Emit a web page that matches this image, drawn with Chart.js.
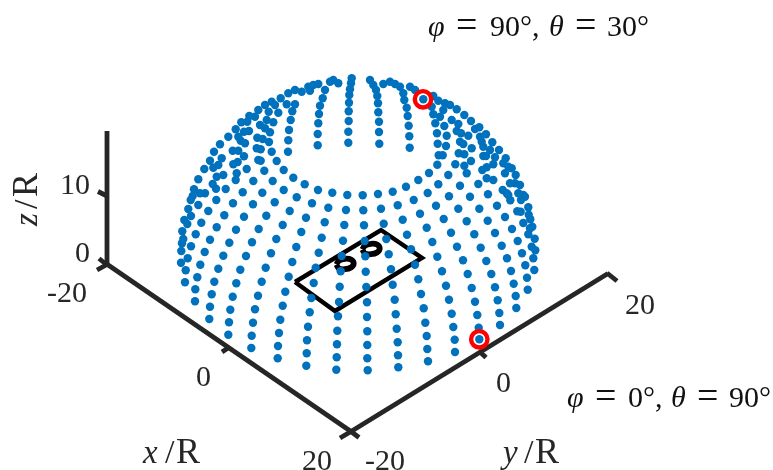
<!DOCTYPE html>
<html>
<head>
<meta charset="utf-8">
<title>Dome scatter</title>
<script src="https://cdn.jsdelivr.net/npm/chart.js@4"></script>
<style>
  html, body { margin: 0; padding: 0; background: #fff; }
  canvas { display: block; }
</style>
</head>
<body>
<canvas id="dome-chart" width="773" height="470"></canvas>
<script>
// Projected positions, one [x, y] run per meridian / cluster
const frontCentre = [[367.7,370.3],[367.3,358.3],[367.3,345],[367.3,331.3],[367,317],[367,302.3],[366.3,287],[365.7,271.7],[365.3,256.3],[364.7,241],[364,225.3],[363.3,210.3],[362.7,195.3]];
const frontLeft1 = [[336.3,369.7],[336.7,357.3],[337,344.3],[337.3,330.7],[338,316.3],[339,302],[339.7,286.7],[340.7,271.3],[341.7,256],[343,240.7],[344.3,225],[346,210],[347.3,195]];
const frontLeft2 = [[306.3,365.7],[306.7,353.3],[307,340.3],[308,326.7],[309.7,312.3],[311.3,298],[313.7,283],[315.7,267.7],[318.7,252.7],[321.7,237.7],[324.7,222.3],[328.3,207.7],[332.3,192.7]];
const frontLeft3 = [[277.7,358.3],[278,346],[279,333],[280.3,319.7],[282.7,305.7],[285.3,291.7],[288.7,276.7],[292.3,262],[296.3,247],[301.3,232],[306,217.7],[312,203.3],[318,190]];
const frontLeft4 = [[251.3,348],[251.7,335.7],[253,322.7],[255,309.3],[258,295.7],[261.7,281.7],[265.7,267.7],[271,253.3],[276.3,239],[282.7,225],[289.7,211],[296.7,197.3],[304.7,184.3]];
const frontLeft5 = [[228.3,334.7],[229,322.3],[230.3,309.7],[232.7,296.7],[236.3,283.3],[240.3,269.7],[246,256],[252,242.3],[258.7,229],[266.3,215.7],[274.7,202.3],[283.7,190],[293.3,177.7]];
const frontLeft6 = [[209.3,319],[210,306.7],[211.7,294.3],[214.3,281.7],[218.3,268.7],[223.3,255.7],[229.3,242.7],[236,229.7],[244,216.7],[253,204.3],[262.3,192.7],[272.7,181],[283.7,170]];
const frontLeft7 = [[195,301.3],[195.3,289.3],[197.3,277.3],[200.3,264.7],[204.7,252],[210,239.7],[216.7,227.3],[224.3,215.3],[233,203.3],[242.7,192.3],[253.3,181],[264.3,170.7],[276.7,161]];
const frontLeft8 = [[185,282.3],[185.7,270.3],[187.7,258.3],[191,246.3],[195.7,234.3],[201.3,222.7],[208.3,211],[216.3,200],[225.7,189],[235.7,180],[246.7,169],[258.3,160],[271.7,151.7]];
const leftEdge = [[181,262.7],[181.3,251],[183.3,239],[187.3,224],[191,216],[198.3,205],[205,193.3],[182,243.3],[182.3,231.3],[184.3,220],[188.3,209],[190.7,200],[192.7,196],[200,193.3],[194,189.3],[212.7,184],[216,188.7],[198.3,179.3],[216.7,176.7],[223.3,175],[236.7,173.3],[204.3,169],[210,160.7],[213.3,167.7],[218.3,165],[214,151.7],[221.7,158.3],[233.3,164.3],[237.7,162]];
const backLeft = [[220,144.3],[228.3,136.7],[232.7,150.7],[238.3,150.7],[244,156.3],[260.7,160.7],[235.7,129.3],[238.3,136.7],[240.7,140.7],[245,143.3],[256.7,148.3],[260.7,149.3],[241.3,122.3],[247.3,121.7],[244,131.7],[249,131],[257.3,137.7],[262.7,139],[269,142],[249.3,116],[255,116.7],[258.3,110],[260,125],[265,128.3],[270,132.3],[265,105],[268.7,111.7],[266.7,120],[273.3,122.3],[271.7,101.7],[275,105],[278.3,112.7],[286.7,104.3],[295,104.3],[280.7,98.3],[288.3,93.3],[295,90],[301.7,91.7],[310,90.7],[308.3,86.7],[313.3,85],[318.3,84],[325,90],[330,81.7],[333.3,80],[338.3,83.3]];
const hangLeft2 = [[292.3,111.3],[290.7,120],[289,130],[288.3,140.3],[288,151.7]];
const hangLeft1 = [[322.7,98.3],[320,105.7],[319,114],[318.3,123.3],[317.7,134],[317.7,145.3]];
const hangCentre = [[351.7,78.3],[351,83.3],[350,89.3],[349.3,95],[349,102.7],[348.7,111.3],[348.7,121],[348.3,131.7],[348.3,142.7]];
const hangRight1 = [[370,80],[373.3,85],[376,90],[377.3,96],[378,103.3],[378.3,112.3],[379,121.7],[379,132],[379.3,143.7]];
const hangRight2 = [[383.3,84],[390,81.7],[395,84],[400,86.7],[403.3,93.3],[404.3,100],[406.7,107.7],[407.7,116],[408.7,125.7],[409.3,136.3],[409.7,147.7]];
const backRight = [[410,86.7],[415,90],[423.3,99.3],[433.3,96],[431.7,106.7],[433.3,114.3],[440,116.7],[435.3,123.3],[437,133.3],[437.7,143.7],[438.7,155.3],[442.7,155.3],[438.3,100.7],[445,103.3],[450,105],[456.7,109.3],[443.3,110],[451.7,120],[464.3,115],[458.3,124],[444.3,126],[446.7,135.7],[446,146],[471,121],[475,129],[479.3,127.3],[456.7,131],[461,133.3],[468.3,135.7],[460,141.7],[463.3,144],[471.7,148.3],[458.7,153.3],[464.3,154.3],[471,161],[464.3,165.7]];
const rightEdge = [[486,134.3],[480,136.7],[481.7,141.7],[492.3,142.3],[483.3,146.7],[490,150],[499,150],[483.3,156],[486,156],[495,157.3],[505.7,158.3],[493.3,164.3],[486.7,167.3],[482.3,170],[503.3,163.3],[508.3,166.7],[511.7,168.3],[505,173.3],[515.7,175],[486.7,178.3],[493.3,180],[515,183.3],[510,183.3],[520,185],[523.3,195],[508.3,195],[535.3,250.3],[534.7,238.7],[532.3,226.7],[530,228.3],[530.3,219.3],[528.7,214.7],[520.7,211.7],[528.3,207.3],[525,196.7],[518.3,193.3],[521,200],[506.7,193.3]];
const frontRight1 = [[398.3,367.3],[398,355.3],[397.7,342.3],[396.7,328.7],[395.7,314.3],[394.7,299.7],[392.7,284.7],[391,269.3],[388.7,254.3],[386.3,239],[383.7,223.7],[381,208.7],[378,194]];
const frontRight2 = [[428,361.3],[427.3,349],[426.7,336],[425.3,322.7],[423.7,308.3],[421,294],[418.3,279.3],[415,264.7],[411,249.3],[407,234.7],[402.7,219.7],[397.7,205.3],[392.7,191.7]];
const frontRight3 = [[455,352],[454.7,339.7],[453.3,327],[451.7,313.7],[449,299.7],[446,285.7],[442,271.3],[437.3,256.7],[432.3,242],[426.7,227.7],[420,213.7],[413.7,200],[406,186.7]];
const frontRight4 = [[479.3,339.3],[478.7,327.7],[477.3,315],[475,301.7],[471.7,288],[467.7,274],[463,260.3],[457,246.7],[451,232.7],[443.7,219],[436,205.7],[427.7,193],[418.3,180]];
const frontRight5 = [[500,325],[499.3,313],[497.7,300.3],[495,287.3],[491.3,274],[486.3,261],[480.7,247.7],[474.3,234.3],[466.7,221.3],[458.3,208.7],[449,196.3],[438.3,184.3],[429,173]];
const frontRight6 = [[516.3,308],[515.7,296],[513.7,283.7],[511,271],[507,258.3],[501.7,245.7],[495,233],[487.7,220.7],[479.3,208.7],[470,196.7],[460,185.7],[448.3,175],[437.3,164.7]];
const frontRight7 = [[527.7,289.7],[527,277.7],[525.3,265.3],[522,253.3],[517.7,241],[512,229],[505,217],[497,205.7],[488,194.3],[478.3,184],[466.7,173.3],[455.3,164.3]];
const frontRight8 = [[534.3,270],[533.3,258.3],[531.7,246.7],[528.3,234.3],[523.3,223],[517.3,211.3],[510.3,200.3],[502.7,190]];

const dotRuns = [frontCentre, frontLeft1, frontLeft2, frontLeft3, frontLeft4, frontLeft5, frontLeft6, frontLeft7, frontLeft8,
  leftEdge, backLeft, hangLeft2, hangLeft1, hangCentre, hangRight1, hangRight2, backRight, rightEdge,
  frontRight1, frontRight2, frontRight3, frontRight4, frontRight5, frontRight6, frontRight7, frontRight8];

const markedPoints = [[423,99.3],[479.3,339.3]];
const padOutline = [[295,282],[335,311],[422,258],[381,230],[295,282]];
const holeOne = [[336.3,264.5],[339,260.5],[345,258.8],[351,259.5],[353.7,263.5],[351,267.5],[345,269.2],[339,268.5],[336.3,264.5]];
const holeTwo = [[362.3,249.5],[365,245.5],[371,243.8],[377,244.5],[379.7,248.5],[377,252.5],[371,254.2],[365,253.5],[362.3,249.5]];

const axisLines = [
  [[107,131],[107,266]],
  [[106,263.5],[351,431.5]],
  [[351,431.5],[608,273.5]],
  [[107,196],[98,191.5]],
  [[107,265],[99,258.5]],
  [[107,264.5],[97,270]],
  [[228,348],[222,352]],
  [[351,431.5],[340,438]],
  [[351,431.5],[359,437.5]],
  [[480,352],[486,357.5]],
  [[607,273],[617,281]]
];

const xyTickText = ["-20", "0", "20"];
const zTickText = ["0", "10"];

const toPoints = run => run.map(p => ({ x: p[0], y: p[1] }));

// Labels go through the same scales as the marks
const labelPlugin = {
  id: "domeLabels",
  afterDatasetsDraw(chart) {
    const { ctx, scales } = chart;
    const px = v => scales.x.getPixelForValue(v);
    const py = v => scales.y.getPixelForValue(v);

    function put(text, x, y, size, italic, color) {
      ctx.font = `${italic ? "italic " : ""}${size}px "Liberation Serif"`;
      ctx.fillStyle = color;
      ctx.textAlign = "left";
      ctx.textBaseline = "alphabetic";
      ctx.fillText(text, px(x), py(y));
    }

    // tick labels
    put(xyTickText[0], 47, 302, 30, false, "#262626");
    put(zTickText[0], 75, 262, 30, false, "#262626");
    put(zTickText[1], 60, 194, 30, false, "#262626");
    put(xyTickText[1], 196, 386, 30, false, "#262626");
    put(xyTickText[2], 302, 470, 30, false, "#262626");
    put(xyTickText[0], 365, 470, 30, false, "#262626");
    put(xyTickText[1], 496, 392, 30, false, "#262626");
    put(xyTickText[2], 625, 314, 30, false, "#262626");

    // axis names
    put("x", 143, 463, 33, true, "#262626");
    put("/", 165, 463, 34, false, "#262626");
    put("R", 176, 463, 36, false, "#262626");
    put("y", 503, 463, 33, true, "#262626");
    put("/", 524, 463, 34, false, "#262626");
    put("R", 535, 463, 36, false, "#262626");
    ctx.save();
    ctx.translate(px(37), py(226));
    ctx.rotate(-Math.PI / 2);
    ctx.font = 'italic 33px "Liberation Serif"';
    ctx.fillStyle = "#262626";
    ctx.fillText("z", 0, 0);
    ctx.font = '34px "Liberation Serif"';
    ctx.fillText("/", 17, 0);
    ctx.font = '36px "Liberation Serif"';
    ctx.fillText("R", 29, 0);
    ctx.restore();

    // view annotations
    put("\u03C6", 428, 36, 30, true, "#111");
    put("=", 456, 37, 38, false, "#111");
    put("90\u00B0,", 490, 36, 30, false, "#111");
    put("\u03B8", 549, 36, 30, true, "#111");
    put("=", 575, 37, 38, false, "#111");
    put("30\u00B0", 607, 36, 30, false, "#111");

    put("\u03C6", 567, 407, 30, true, "#111");
    put("=", 595, 408, 38, false, "#111");
    put("0\u00B0,", 628, 407, 30, false, "#111");
    put("\u03B8", 671, 407, 30, true, "#111");
    put("=", 697, 408, 38, false, "#111");
    put("90\u00B0", 729, 407, 30, false, "#111");
  }
};

const lineSet = (run, color, width, tension) => ({
  data: toPoints(run),
  showLine: true,
  borderColor: color,
  borderWidth: width,
  pointRadius: 0,
  tension: tension || 0,
  borderJoinStyle: "miter"
});

new Chart(document.querySelector("#dome-chart").getContext("2d"), {
  type: "scatter",
  data: {
    datasets: [
      {
        data: toPoints(markedPoints),
        pointStyle: "circle",
        pointRadius: 8.2,
        pointBorderWidth: 4.4,
        pointBorderColor: "#ff0000",
        pointBackgroundColor: "rgba(0,0,0,0)"
      },
      {
        data: toPoints(dotRuns.flat()),
        pointRadius: 4.2,
        pointBorderWidth: 0,
        pointBackgroundColor: "#0072BD"
      },
      lineSet(padOutline, "#000", 4.4),
      lineSet(holeOne, "#000", 5.8, 0.4),
      lineSet(holeTwo, "#000", 5.8, 0.4),
      ...axisLines.map(run => lineSet(run, "#262626", 4.8))
    ]
  },
  options: {
    responsive: false,
    animation: false,
    layout: { padding: 0, autoPadding: false },
    plugins: { legend: { display: false }, tooltip: { enabled: false } },
    scales: {
      x: { type: "linear", display: false, min: 0, max: 773 },
      y: { type: "linear", display: false, min: 0, max: 470, reverse: true }
    }
  },
  plugins: [labelPlugin]
});
</script>
</body>
</html>
